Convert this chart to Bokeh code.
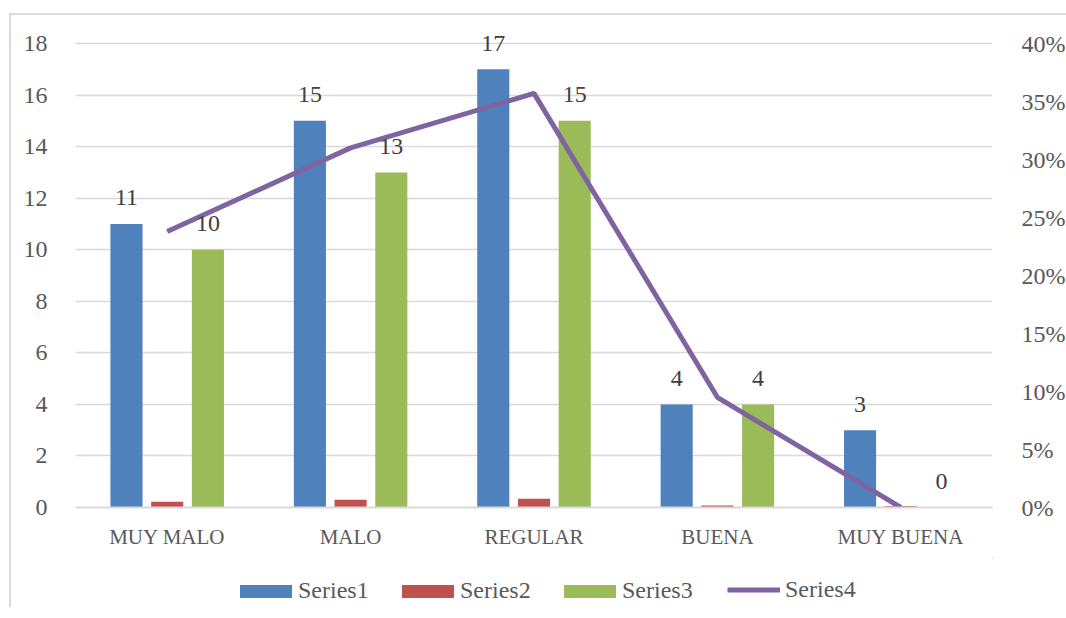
from bokeh.plotting import figure
from bokeh.layouts import column
from bokeh.models import (ColumnDataSource, FactorRange, Range1d, LinearAxis, Legend,
                          LegendItem, NumeralTickFormatter, FixedTicker)
from bokeh.transform import dodge
from bokeh.core.properties import value
from bokeh.embed import file_html
from bokeh.resources import INLINE

categories = ["MUY MALO", "MALO", "REGULAR", "BUENA", "MUY BUENA"]
series1 = [11, 15, 17, 4, 3]
series2 = [0.22, 0.30, 0.34, 0.08, 0.06]
series3 = [10, 13, 15, 4, 0]
series4 = [0.238, 0.310, 0.357, 0.095, 0.0]
series_names = ["Series1", "Series2", "Series3", "Series4"]
left_ticks = [0, 2, 4, 6, 8, 10, 12, 14, 16, 18]
right_ticks = [0, 0.05, 0.10, 0.15, 0.20, 0.25, 0.30, 0.35, 0.40]

FONT = "Liberation Serif"
BLUE, RED, GREEN, PURPLE = "#4F81BD", "#C0504D", "#9BBB59", "#8064A2"

# axis maxima 18 / 40% sit at the same height; a little head-room above keeps the "17" label visible
LEFT_MAX, RIGHT_MAX = 18, 0.4
AXIS_PX = 464            # pixel height from 0 to the top tick
FRAME_PX = 477           # frame height incl. head-room
stretch = FRAME_PX / AXIS_PX

src = ColumnDataSource(dict(
    cat=categories, s1=series1, s2=series2, s3=series3, s4=series4,
    l1=[str(v) for v in series1], l3=[str(v) for v in series3],
))

p = figure(x_range=FactorRange(*categories, range_padding=0),
           y_range=Range1d(0, LEFT_MAX * stretch),
           frame_width=917, frame_height=FRAME_PX, output_backend="svg", toolbar_location=None,
           min_border_left=64, min_border_right=67, min_border_top=15, min_border_bottom=50)
p.extra_y_ranges = {"pct": Range1d(0, RIGHT_MAX * stretch)}
p.outline_line_color = None
p.background_fill_color = "white"
p.border_fill_color = "white"

off, bw = 0.222, 0.175
r1 = p.vbar(x=dodge("cat", -off, range=p.x_range), top="s1", width=bw, source=src,
            fill_color=BLUE, line_color=None)
r2 = p.vbar(x=dodge("cat", 0, range=p.x_range), top="s2", width=bw, source=src,
            fill_color=RED, line_color=None)
r3 = p.vbar(x=dodge("cat", off, range=p.x_range), top="s3", width=bw, source=src,
            fill_color=GREEN, line_color=None)
r4 = p.line(x="cat", y="s4", source=src, y_range_name="pct", line_color=PURPLE,
            line_width=5)

for xo, col in [(-off, "s1"), (off, "s3")]:
    p.text(x=dodge("cat", xo, range=p.x_range), y=col, text="l1" if col == "s1" else "l3",
           source=src, text_align="center", text_baseline="alphabetic", y_offset=-26,
           text_font=value(FONT), text_font_size="24px", text_color="#404040")

# axes
p.xgrid.visible = False
p.ygrid.grid_line_color = "#d9d9d9"
p.ygrid.grid_line_width = 1.5
p.yaxis.ticker = FixedTicker(ticks=left_ticks)
p.yaxis.axis_line_color = None
p.yaxis.major_tick_line_color = None
p.yaxis.minor_tick_line_color = None
p.yaxis.major_label_standoff = 22
p.xaxis.axis_line_color = "#d9d9d9"
p.xaxis.axis_line_width = 2
p.xaxis.major_tick_line_color = None
p.xaxis.minor_tick_line_color = None
p.xaxis.major_label_standoff = 11

right = LinearAxis(y_range_name="pct", ticker=FixedTicker(ticks=right_ticks),
                   formatter=NumeralTickFormatter(format="0%"))
right.axis_line_color = None
right.major_tick_line_color = None
right.minor_tick_line_color = None
right.major_label_standoff = 23
p.add_layout(right, "right")

for ax in [p.yaxis[0], right]:
    ax.major_label_text_font = FONT
    ax.major_label_text_font_size = "24px"
    ax.major_label_text_color = "#595959"
p.xaxis.major_label_text_font = FONT
p.xaxis.major_label_text_font_size = "21px"
p.xaxis.major_label_text_color = "#595959"

# legend strip below the chart (proxy glyphs lie fully outside its visible range)
lf = figure(x_range=Range1d(0, 1), y_range=Range1d(0, 1), x_axis_type=None, y_axis_type=None,
            frame_width=917, frame_height=50, output_backend="svg", toolbar_location=None,
            min_border_left=64, min_border_right=67, min_border_top=0, min_border_bottom=0)
lf.outline_line_color = None
lf.grid.visible = False
lf.border_fill_color = "white"
proxy = ColumnDataSource(dict(x=[10, 11], y=[10, 10]))
d1 = lf.vbar(x="x", top="y", bottom=5, width=0.1, source=proxy, fill_color=BLUE, line_color=None)
d2 = lf.vbar(x="x", top="y", bottom=5, width=0.1, source=proxy, fill_color=RED, line_color=None)
d3 = lf.vbar(x="x", top="y", bottom=5, width=0.1, source=proxy, fill_color=GREEN, line_color=None)
d4 = lf.line(x="x", y="y", source=proxy, line_color=PURPLE, line_width=5)


def style(leg, gw, gh, standoff):
    leg.orientation = "horizontal"
    leg.glyph_width = gw
    leg.glyph_height = gh
    leg.label_height = 26
    leg.label_standoff = standoff
    leg.label_width = 73
    leg.spacing = 24
    leg.padding = 0
    leg.margin = 0
    leg.border_line_color = None
    leg.background_fill_alpha = 0
    leg.label_text_font = FONT
    leg.label_text_font_size = "24px"
    leg.label_text_color = "#595959"


bar_legend = Legend(items=[LegendItem(label=n, renderers=[r])
                           for n, r in zip(series_names[:3], [d1, d2, d3])],
                    location=(158, 3))
style(bar_legend, 65, 16, 0)
line_legend = Legend(items=[LegendItem(label=series_names[3], renderers=[d4])],
                     location=(652, 4))
style(line_legend, 53, 13, 5)
lf.add_layout(bar_legend, "center")
lf.add_layout(line_legend, "center")

layout = column(p, lf, spacing=0)
layout.margin = (13, 0, 0, 9)
layout.styles = {"border-left": "2px solid #d9d9d9", "border-top": "2px solid #d9d9d9"}

open("out.html", "w").write(file_html(layout, INLINE))
